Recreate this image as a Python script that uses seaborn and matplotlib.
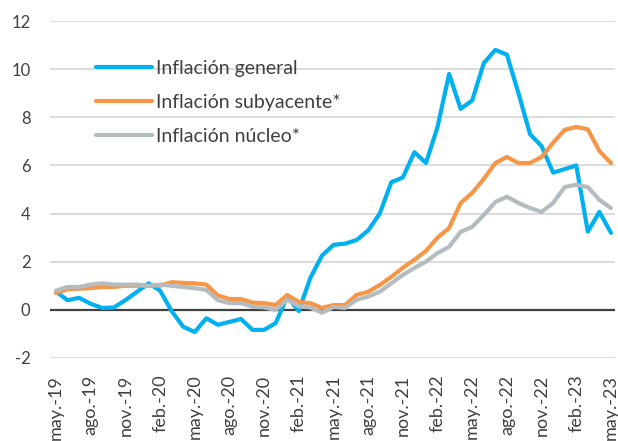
import numpy as np
import pandas as pd
import matplotlib
matplotlib.use("Agg")
import matplotlib.pyplot as plt
import seaborn as sns
from matplotlib.lines import Line2D

months_es = ["ene", "feb", "mar", "abr", "may", "jun", "jul", "ago", "sep", "oct", "nov", "dic"]
start_month = 4  # may
start_year = 2019
n = 49

general = [0.76, 0.4, 0.5, 0.25, 0.08, 0.1, 0.4, 0.75, 1.1, 0.8,
           -0.05, -0.7, -0.92, -0.35, -0.62, -0.5, -0.38, -0.83, -0.83, -0.55,
           0.55, -0.05, 1.33, 2.25, 2.7, 2.75, 2.9, 3.3, 4.0, 5.3,
           5.5, 6.55, 6.1, 7.6, 9.8, 8.35, 8.7, 10.25, 10.8, 10.6,
           9.0, 7.3, 6.8, 5.7, 5.85, 6.0, 3.25, 4.07, 3.2]
subyacente = [0.7, 0.85, 0.88, 0.9, 0.95, 0.95, 1.0, 1.0, 1.0, 1.0,
              1.15, 1.12, 1.1, 1.05, 0.6, 0.45, 0.45, 0.3, 0.28, 0.2,
              0.62, 0.33, 0.28, 0.08, 0.2, 0.2, 0.62, 0.75, 1.03, 1.37,
              1.75, 2.08, 2.45, 3.0, 3.4, 4.44, 4.86, 5.44, 6.1, 6.35,
              6.1, 6.1, 6.35, 6.94, 7.48, 7.6, 7.5, 6.6, 6.1]
nucleo = [0.8, 0.95, 0.95, 1.05, 1.1, 1.05, 1.05, 1.05, 1.0, 1.05,
          1.0, 0.95, 0.9, 0.83, 0.4, 0.28, 0.28, 0.13, 0.1, 0.0,
          0.42, 0.15, 0.1, -0.12, 0.12, 0.08, 0.42, 0.55, 0.75, 1.1,
          1.45, 1.74, 2.0, 2.36, 2.62, 3.24, 3.45, 3.94, 4.48, 4.7,
          4.44, 4.23, 4.07, 4.44, 5.1, 5.2, 5.1, 4.57, 4.23]

series_names = ["Inflación general", "Inflación subyacente*", "Inflación núcleo*"]
colors = ["#00B0F0", "#F79646", "#B4BCC0"]

labels = []
for i in range(n):
    m = (start_month + i) % 12
    y = start_year + (start_month + i) // 12
    labels.append(f"{months_es[m]}.-{y % 100:02d}")

idx = np.arange(n)
df = pd.DataFrame({
    "idx": np.concatenate([idx, idx, idx]),
    "valor": np.concatenate([general, subyacente, nucleo]),
    "serie": np.repeat(series_names, n),
})

sns.set_style("white")
plt.rcParams["font.family"] = ["Lato", "DejaVu Sans"]

fig = plt.figure(figsize=(6.18, 4.41), dpi=100)
ax = fig.add_axes([50 / 618, 1 - 358 / 441, 565 / 618, (358 - 21) / 441])

for y in range(-2, 13, 2):
    if y == 0:
        continue
    ax.axhline(y, color="#D9D9D9", lw=1.3, zorder=0)
ax.axhline(0, color="#404040", lw=1.6, zorder=1)

sns.lineplot(data=df, x="idx", y="valor", hue="serie", hue_order=series_names,
             palette=colors, linewidth=3.0, ax=ax, legend=False, zorder=3,
             solid_capstyle="round")

ax.set_xlim(-0.52, 48.35)
ax.set_ylim(-2, 12)
ax.set_yticks(range(-2, 13, 2))
ax.set_yticklabels([str(v) for v in range(-2, 13, 2)])
tick_pos = list(range(0, n, 3))
ax.set_xticks(tick_pos)
ax.set_xticklabels([labels[i] for i in tick_pos], rotation=90, va="top", ha="center")
ax.tick_params(axis="both", length=0, colors="#404040")
ax.tick_params(axis="y", pad=14, labelsize=12)
ax.tick_params(axis="x", pad=12, labelsize=13)
ax.set_xlabel("")
ax.set_ylabel("")
for s in ax.spines.values():
    s.set_visible(False)

handles = [Line2D([0], [0], color=c, lw=3.0, solid_capstyle="round") for c in colors]
leg = ax.legend(handles, series_names, loc="upper left", bbox_to_anchor=(0.081, 0.884),
                frameon=False, fontsize=14, handlelength=2.9, handletextpad=0.2,
                labelspacing=0.86, labelcolor="#404040", borderpad=0, borderaxespad=0)

fig.savefig("out.png", dpi=100, facecolor="white")
